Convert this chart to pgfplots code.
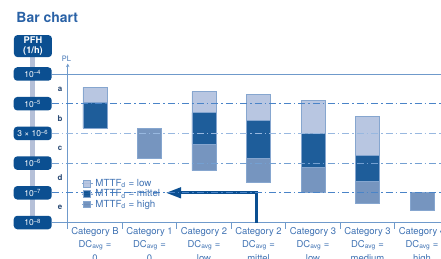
\documentclass[border=0pt]{standalone}
\usepackage{pgfplots}
\usepackage{pgfplotstable}
\pgfplotsset{compat=1.18}
\usepackage{fontspec}
\setmainfont{TeX Gyre Heros}
\usetikzlibrary{arrows.meta}
\definecolor{darkb}{HTML}{0B4F91}
\definecolor{lowc}{HTML}{B2C1DE}
\definecolor{highc}{HTML}{6A8CBA}
\definecolor{outc}{HTML}{86A6CF}
\definecolor{gridc}{HTML}{4A84C8}
\definecolor{gridm}{HTML}{74A0D2}
\definecolor{gridl}{HTML}{98B8E0}
\definecolor{axc}{HTML}{6F9ACB}
\definecolor{txtc}{HTML}{3F72B3}
\definecolor{letc}{HTML}{2A4A74}
\definecolor{titc}{HTML}{2A62A6}
\definecolor{colc}{HTML}{B5C0D8}

\pgfplotstableread{
x base high mittel low
0 3.18 0.00 0.85 0.52
1 2.14 1.04 0.00 0.00
2 1.75 0.89 1.06 0.71
3 1.34 0.81 1.27 0.89
4 1.00 0.84 1.15 1.11
5 0.64 0.75 0.87 1.30
6 0.41 0.59 0.00 0.00
}\bars

\tikzset{dd/.style={dash pattern=on 7bp off 3bp on 1.5bp off 3bp, line width=0.8bp},
  lett/.style={text=letc, font=\bfseries\fontsize{8}{9}\selectfont}}

\begin{document}
\begin{tikzpicture}[font=\fontsize{9.5}{13}\selectfont]
% grey column behind the PFH boxes (axis box lower-left corner is at (0,0))
\draw[colc, line width=5bp] (-34.8bp,0bp) -- (-34.8bp,176.4bp);
\begin{axis}[
  at={(0,0)}, anchor=south west,
  scale only axis,
  width=381.5bp, height=158.9bp,
  xmin=-0.5, xmax=6.5, ymin=0, ymax=5.35,
  clip=false,
  axis x line*=bottom,
  axis y line=left,
  axis line style={draw=axc, line width=0.8bp},
  x axis line style={-},
  y axis line style={-{Stealth[length=3.5bp,width=3.5bp]}},
  ybar stacked,
  bar width=24bp,
  xtick={0,...,6},
  xticklabels={
    {Category B\\DC\textsubscript{avg} =\\0},
    {Category 1\\DC\textsubscript{avg} =\\0},
    {Category 2\\DC\textsubscript{avg} =\\low},
    {Category 2\\DC\textsubscript{avg} =\\mittel},
    {Category 3\\DC\textsubscript{avg} =\\low},
    {Category 3\\DC\textsubscript{avg} =\\medium},
    {Category 4\\DC\textsubscript{avg} =\\high}},
  xticklabel style={align=center, text=txtc, yshift=-1.2bp, font=\fontsize{9.5}{13.6}\selectfont},
  major tick length=0pt,
  extra x ticks={-0.5,0.5,1.5,2.5,3.5,4.5,5.5,6.5},
  extra x tick labels={},
  extra x tick style={major tick length=6bp, tick align=outside, tick style={draw=axc, line width=0.8bp}},
  ytick={0,...,5},
  yticklabels={10\textsuperscript{–8},10\textsuperscript{–7},10\textsuperscript{–6},3 × 10\textsuperscript{–6},10\textsuperscript{–5},10\textsuperscript{–4}},
  ytick style={draw=none},
  yticklabel style={anchor=east, xshift=-16bp, fill=darkb, text=white, rounded corners=3.5bp,
    minimum width=38bp, minimum height=13.5bp, inner sep=0pt, outer sep=0pt,
    font=\fontsize{8.5}{9}\selectfont},
  legend style={at={(axis cs:-0.25,1.53)}, anchor=north west, draw=none, fill=none,
    font=\fontsize{9.8}{10}\selectfont, text=txtc, inner sep=0pt, row sep=-2.2bp,
    cells={anchor=west}},
  legend image code/.code={\path (0bp,0bp) -- (11bp,0bp);
    \filldraw[line width=0.6bp] (1.5bp,-3.4bp) rectangle (8.5bp,3.4bp);},
  reverse legend,
]
\draw[axc, line width=0.8bp] (axis cs:-0.789,5) -- (axis cs:6.5,5);
\draw[gridc, dd] (axis cs:-0.789,4) -- (axis cs:6.5,4);
\draw[gridl, dd] (axis cs:-0.789,3) -- (axis cs:6.5,3);
\draw[gridm, dd] (axis cs:-0.789,2) -- (axis cs:6.5,2);
\draw[gridc, dd] (axis cs:-0.789,1) -- (axis cs:6.5,1);
\draw[axc, line width=0.8bp] (axis cs:-0.789,0) -- (axis cs:-0.5,0);

\addplot[fill=none, draw=none, forget plot] table[x=x, y=base]{\bars};
\addplot[fill=highc, draw=outc, line width=0.9bp, fill opacity=0.92] table[x=x, y=high]{\bars};
\addlegendentry{MTTF\textsubscript{d} = high}
\addplot[fill=darkb, draw=outc, line width=0.9bp, fill opacity=0.92] table[x=x, y=mittel]{\bars};
\addlegendentry{MTTF\textsubscript{d} = mittel}
\addplot[fill=lowc, draw=outc, line width=0.9bp, fill opacity=0.92] table[x=x, y=low]{\bars};
\addlegendentry{MTTF\textsubscript{d} = low}

\draw[darkb, line width=2.8bp, -{Triangle[length=15bp,width=10.5bp]}]
  (axis cs:2.967,0) -- (axis cs:2.967,1) -- (axis cs:1.303,1);

\node[fill=darkb, text=white, rounded corners=3.5bp, minimum width=38bp, minimum height=22bp,
  inner sep=1bp, align=center, font=\bfseries\fontsize{9.3}{10}\selectfont]
  at (axis cs:-1.138,5.94) {PFH\\(1/h)};
\node[anchor=base west, text=titc, font=\bfseries\fontsize{14}{16}\selectfont]
  at (axis cs:-1.505,6.75) {Bar chart};
\node[text=txtc, font=\fontsize{7.5}{9}\selectfont] at (axis cs:-0.523,5.5) {PL};
\node[lett] at (axis cs:-0.642,4.5) {a};
\node[lett] at (axis cs:-0.642,3.5) {b};
\node[lett] at (axis cs:-0.642,2.5) {c};
\node[lett] at (axis cs:-0.642,1.5) {d};
\node[lett] at (axis cs:-0.642,0.5) {e};

\coordinate (bbSW) at (axis cs:-1.7431,-1.1953);
\coordinate (bbNE) at (axis cs:6.3486,7.4916);
\end{axis}
\pgfresetboundingbox
\path[use as bounding box] (bbSW) rectangle (bbNE);
\end{tikzpicture}
\end{document}
